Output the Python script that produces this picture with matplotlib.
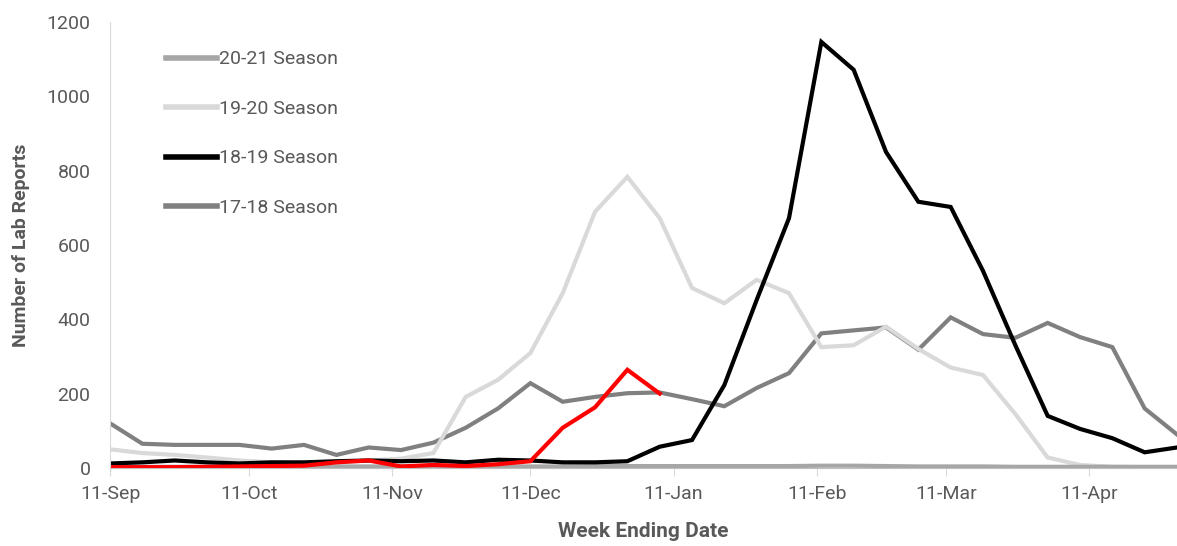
# -*- coding: utf-8 -*-
import datetime as dt
import numpy as np
import matplotlib
matplotlib.use('Agg')
import matplotlib.pyplot as plt
import matplotlib.dates as mdates

# weekly points, week ending dates starting 11-Sep
start_date = dt.date(2020, 9, 11)
n_weeks = 34
week_dates = [start_date + dt.timedelta(days=7 * i) for i in range(n_weeks)]

season_20_21 = [3, 3, 3, 3, 3, 3, 4, 4, 4, 4, 4, 4, 4, 4, 4, 5, 5,
                5, 5, 5, 5, 5, 6, 6, 5, 4, 4, 4, 3, 3, 3, 3, 3, 3]
season_19_20 = [50, 40, 35, 28, 20, 15, 12, 15, 20, 25, 40, 191, 237, 309, 470, 689, 783,
                672, 484, 443, 506, 470, 325, 330, 380, 320, 270, 250, 145, 28, 8, 3, 2, 2]
season_18_19 = [12, 15, 20, 15, 12, 15, 15, 18, 20, 18, 20, 15, 22, 20, 15, 15, 18,
                57, 75, 223, 452, 672, 1146, 1071, 850, 716, 702, 530, 330, 140, 105, 80, 42, 55]
season_17_18 = [120, 65, 62, 62, 62, 52, 62, 35, 55, 48, 68, 108, 160, 228, 178, 191, 201,
                203, 185, 166, 215, 255, 362, 370, 378, 318, 405, 360, 350, 390, 352, 325, 160, 90]
# current season, red line (not in legend)
season_current = [2, 2, 2, 3, 4, 5, 6, 15, 20, 4, 8, 5, 10, 18, 108, 163, 264, 200]

legend_labels = ['20-21 Season', '19-20 Season', '18-19 Season', '17-18 Season']
y_ticks = [0, 200, 400, 600, 800, 1000, 1200]

TEXT_COLOR = '#595959'


def set_style(plt):
    plt.rcParams['font.family'] = ['Roboto', 'DejaVu Sans']
    plt.rcParams['axes.unicode_minus'] = False
    return


def draw_chart():
    set_style(plt)
    fig = plt.figure(figsize=(11.77, 5.46), dpi=100)
    ax = fig.add_axes([0.0935, 0.143, 0.9065, 0.817])

    lw = 3.0
    l17, = ax.plot(week_dates, season_17_18, color='#808080', lw=lw, solid_joinstyle='miter')
    l19, = ax.plot(week_dates, season_19_20, color='#d9d9d9', lw=lw, solid_joinstyle='miter')
    l20, = ax.plot(week_dates, season_20_21, color='#a6a6a6', lw=lw, solid_joinstyle='miter')
    l18, = ax.plot(week_dates, season_18_19, color='black', lw=lw, solid_joinstyle='miter')
    ax.plot(week_dates[:len(season_current)], season_current, color='#ff0000', lw=lw,
            solid_joinstyle='miter')

    # 坐标轴范围
    ax.set_xlim(week_dates[0], week_dates[-1])
    ax.set_ylim(0, 1200)
    ax.set_yticks(y_ticks)

    months = [dt.date(2020, 9, 11), dt.date(2020, 10, 11), dt.date(2020, 11, 11),
              dt.date(2020, 12, 11), dt.date(2021, 1, 11), dt.date(2021, 2, 11),
              dt.date(2021, 3, 11), dt.date(2021, 4, 11)]
    ax.set_xticks(months)
    ax.xaxis.set_major_formatter(mdates.DateFormatter('%d-%b'))

    for s in ['top', 'right']:
        ax.spines[s].set_visible(False)
    ax.spines['left'].set_color('#d9d9d9')
    ax.spines['bottom'].set_color('#bfbfbf')
    ax.tick_params(axis='y', length=0, pad=14, labelsize=14, labelcolor=TEXT_COLOR)
    ax.tick_params(axis='x', length=6, color='#d9d9d9', pad=6, labelsize=14,
                   labelcolor=TEXT_COLOR)

    ax.set_ylabel('Number of Lab Reports', fontsize=14, fontweight='bold',
                  color=TEXT_COLOR, labelpad=12)
    ax.set_xlabel('Week Ending Date', fontsize=15, fontweight='bold',
                  color=TEXT_COLOR, labelpad=14)

    leg = ax.legend([l20, l19, l18, l17], legend_labels, loc='upper left',
                    bbox_to_anchor=(0.036, 0.975), frameon=False, fontsize=14,
                    handlelength=2.6, handletextpad=0.15, labelspacing=1.62)
    for t in leg.get_texts():
        t.set_color(TEXT_COLOR)
    for h in leg.legend_handles:
        h.set_linewidth(4)

    fig.savefig('out.png', dpi=100)
    return


def main():
    draw_chart()
    return


if __name__ == '__main__':
    main()
